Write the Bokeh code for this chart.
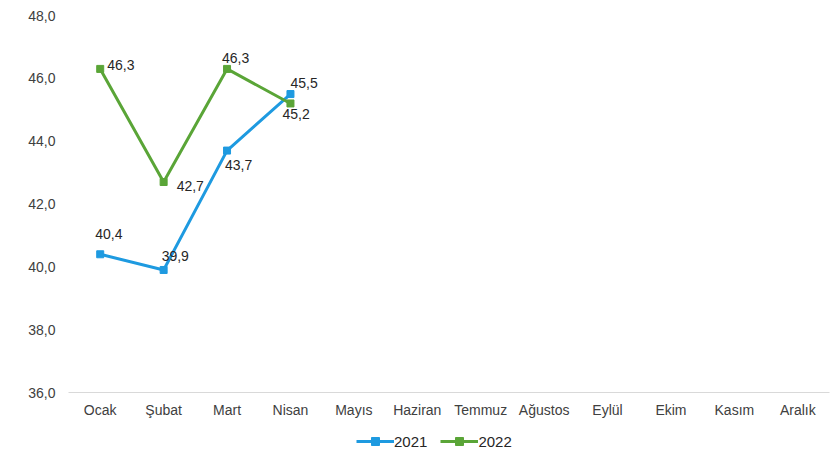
from bokeh.plotting import figure
from bokeh.models import (FactorRange, Range1d, FixedTicker, CustomJSTickFormatter,
                          ColumnDataSource, Legend, LegendItem)
from bokeh.layouts import column
from bokeh.embed import file_html
from bokeh.resources import INLINE
from bokeh.core.properties import value

months = ["Ocak", "Şubat", "Mart", "Nisan", "Mayıs", "Haziran", "Temmuz",
          "Ağustos", "Eylül", "Ekim", "Kasım", "Aralık"]
months_2021 = ["Ocak", "Şubat", "Mart", "Nisan"]
values_2021 = [40.4, 39.9, 43.7, 45.5]
months_2022 = ["Ocak", "Şubat", "Mart", "Nisan"]
values_2022 = [46.3, 42.7, 46.3, 45.2]
y_ticks = [36, 38, 40, 42, 44, 46, 48]
series_names = ["2021", "2022"]

# label offsets in screen pixels (style, not data)
dx_2021 = [-5, -2, -2, 0]
dy_2021 = [-20, -14, 14, -11]
dx_2022 = [7, 13, -5, -8]
dy_2022 = [-4, 4, -11, 11]

BLUE = "#1e9ae0"
GREEN = "#5aa537"
FONT = "Liberation Sans"

p = figure(frame_width=761, frame_height=377, x_range=FactorRange(*months, range_padding=0),
           y_range=Range1d(36, 48), output_backend="svg", toolbar_location=None,
           min_border_left=68, min_border_right=1, min_border_top=15, min_border_bottom=30)
p.outline_line_color = None
p.xgrid.grid_line_color = None
p.ygrid.grid_line_color = None
p.background_fill_color = "white"
p.border_fill_color = "white"

p.yaxis.ticker = FixedTicker(ticks=y_ticks)
p.yaxis.formatter = CustomJSTickFormatter(code="return tick.toFixed(1).replace('.', ',');")
p.yaxis.axis_line_color = None
p.yaxis.major_tick_line_color = None
p.yaxis.minor_tick_line_color = None
p.yaxis.major_tick_out = 0
p.yaxis.major_tick_in = 0
p.yaxis.major_label_standoff = 13
p.yaxis.major_label_text_font = FONT
p.yaxis.major_label_text_font_size = "14px"
p.yaxis.major_label_text_color = "#404040"

p.xaxis.axis_line_color = "#d9d9d9"
p.xaxis.axis_line_width = 1
p.xaxis.major_tick_line_color = None
p.xaxis.minor_tick_line_color = None
p.xaxis.major_tick_out = 0
p.xaxis.major_tick_in = 0
p.xaxis.major_label_standoff = 9
p.xaxis.major_label_text_font = FONT
p.xaxis.major_label_text_font_size = "14px"
p.xaxis.major_label_text_color = "#404040"

s21 = ColumnDataSource(dict(x=months_2021, y=values_2021,
                            t=[f"{v:.1f}".replace(".", ",") for v in values_2021],
                            dx=dx_2021, dy=dy_2021))
s22 = ColumnDataSource(dict(x=months_2022, y=values_2022,
                            t=[f"{v:.1f}".replace(".", ",") for v in values_2022],
                            dx=dx_2022, dy=dy_2022))

p.line("x", "y", source=s21, line_color=BLUE, line_width=3)
p.scatter("x", "y", source=s21, marker="square", size=7, fill_color=BLUE, line_color=BLUE)
p.line("x", "y", source=s22, line_color=GREEN, line_width=3)
p.scatter("x", "y", source=s22, marker="square", size=7, fill_color=GREEN, line_color=GREEN)

for s in (s21, s22):
    p.text("x", "y", text="t", source=s, x_offset="dx", y_offset="dy",
           text_font=value(FONT), text_font_size="14px", text_color="#262626",
           text_align="left", text_baseline="middle")

# legend strip below the chart (glyphs placed off-frame, only their legend swatches show)
lg = figure(width=830, height=32, x_range=Range1d(0, 1), y_range=Range1d(0, 1),
            output_backend="svg", toolbar_location=None,
            min_border_left=0, min_border_right=0, min_border_top=0, min_border_bottom=0)
lg.axis.visible = False
lg.xgrid.grid_line_color = None
lg.ygrid.grid_line_color = None
lg.outline_line_color = None
items = []
for name, col in zip(series_names, [BLUE, GREEN]):
    r1 = lg.line([-5, -4], [-5, -5], line_color=col, line_width=3)
    r2 = lg.scatter([-5], [-5], marker="square", size=7, fill_color=col, line_color=col)
    items.append(LegendItem(label=name, renderers=[r1, r2]))
legend = Legend(items=items, orientation="horizontal", location=(288, 3),
                border_line_color=None, background_fill_alpha=0,
                glyph_width=38, glyph_height=20, label_standoff=0, spacing=13, padding=0, margin=0,
                label_text_font=FONT, label_text_font_size="15px", label_text_color="#262626")
lg.add_layout(legend, "center")

open("out.html", "w").write(file_html(column(p, lg), INLINE))
